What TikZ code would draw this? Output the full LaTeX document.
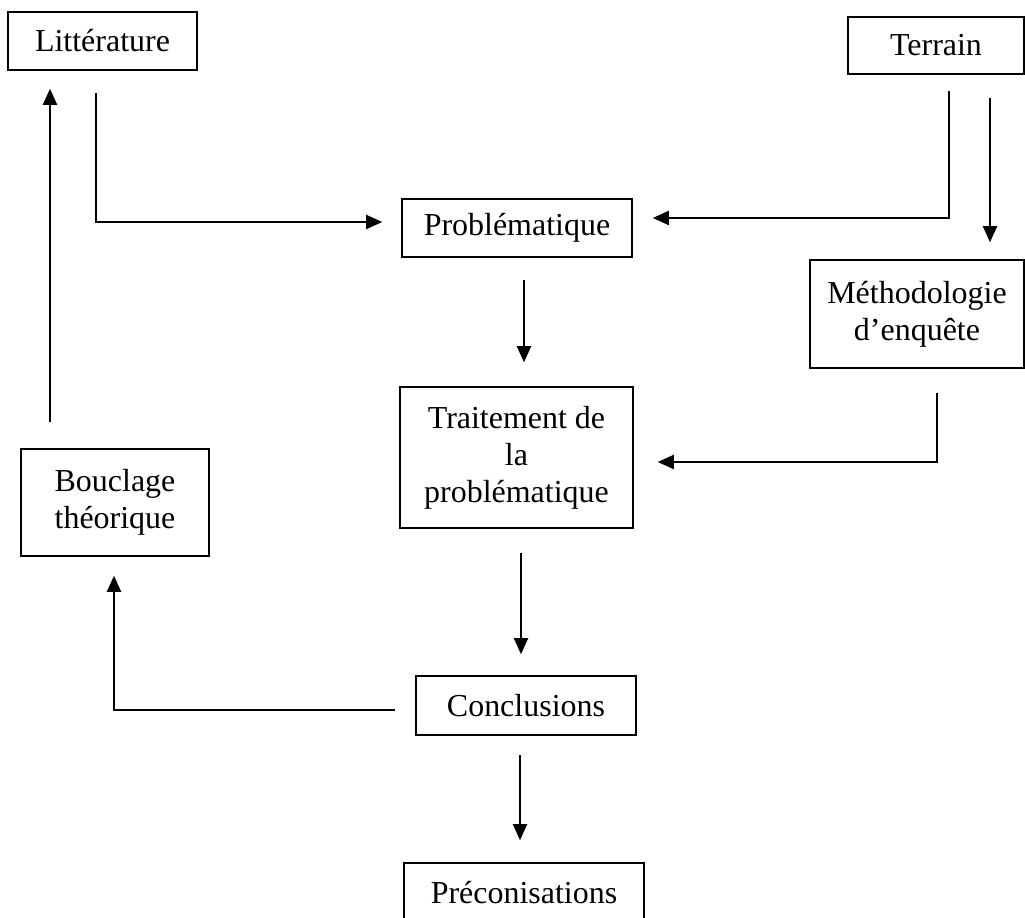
\documentclass[tikz,border=0pt]{standalone}
\usepackage{fontspec}
\setmainfont{Liberation Serif}
\usepackage{tikz}
\usetikzlibrary{arrows.meta}
\usetikzlibrary{positioning}

\begin{document}
\begin{tikzpicture}[x=0.02cm,y=-0.02cm,
  boite/.style={draw=black,line width=0.9pt,inner sep=0pt,align=center,font=\fontsize{18.2}{21}\selectfont},
  fleche/.style={draw=black,line width=1.1pt,-{Triangle[length=0.32cm,width=0.28cm]}}]
\clip (0,0) rectangle (1025,918);
\node[boite,minimum width=3.78cm,minimum height=1.16cm] (lit) at (102.5,41) {Littérature};
\node[boite,minimum width=3.52cm,minimum height=1.14cm] (terrain) at (936,45.5) {Terrain};
\node[boite,minimum width=4.6cm,minimum height=1.16cm] (prob) at (517,228) {Problématique};
\node[boite,minimum width=4.28cm,minimum height=2.16cm] (metho) at (917,314) {Méthodologie\\d’enquête};
\node[boite,minimum width=4.66cm,minimum height=2.82cm] (trait) at (516.5,457.5) {Traitement de\\la\\problématique};
\node[boite,minimum width=3.76cm,minimum height=2.14cm] (boucl) at (115,502.5) {Bouclage\\théorique};
\node[boite,minimum width=4.4cm,minimum height=1.18cm] (concl) at (526,705.5) {Conclusions};
\node[boite,minimum width=4.8cm,minimum height=1.18cm] (preco) at (524,892.5) {Préconisations};

% coins des fleches
\coordinate (g1) at (50,0);
\coordinate (k2) at (96,222);
\coordinate (k3) at (949,218);
\coordinate (g4) at (990,0);
\coordinate (k5) at (937,462);
\coordinate (g6) at (524,0);
\coordinate (g7) at (521,0);
\coordinate (k8) at (114,710);
\coordinate (g9) at (520,0);

\draw[fleche,shorten <=0.52cm,shorten >=0.36cm] (boucl.north -| g1) -- (lit.south -| g1);
\draw[fleche,shorten <=0.44cm,shorten >=0.38cm] (lit.south -| k2) -- (k2) -- (prob.west |- k2);
\draw[fleche,shorten <=0.32cm,shorten >=0.4cm] (terrain.south -| k3) -- (k3) -- (prob.east |- k3);
\draw[fleche,shorten <=0.46cm,shorten >=0.34cm] (terrain.south -| g4) -- (metho.north -| g4);
\draw[fleche,shorten <=0.48cm,shorten >=0.48cm] (metho.south -| k5) -- (k5) -- (trait.east |- k5);
\draw[fleche,shorten <=0.44cm,shorten >=0.48cm] (prob.south -| g6) -- (trait.north -| g6);
\draw[fleche,shorten <=0.48cm,shorten >=0.42cm] (trait.south -| g7) -- (concl.north -| g7);
\draw[fleche,shorten <=0.4cm,shorten >=0.38cm] (concl.west |- k8) -- (k8) -- (boucl.south -| k8);
\draw[fleche,shorten <=0.38cm,shorten >=0.44cm] (concl.south -| g9) -- (preco.north -| g9);

\end{tikzpicture}
\end{document}
